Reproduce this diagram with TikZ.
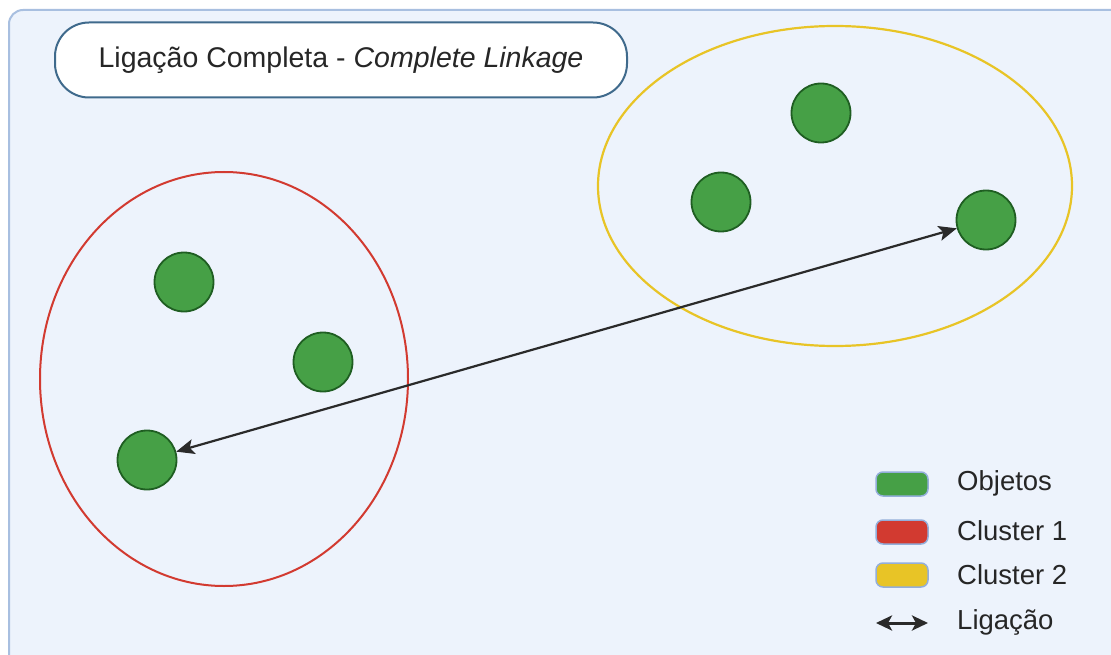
\documentclass[tikz,border=0pt]{standalone}
\usepackage{fontspec}
\setmainfont{Liberation Sans}
\usetikzlibrary{arrows.meta}
\definecolor{panelbg}{HTML}{EDF3FC}
\definecolor{panelline}{HTML}{A8BFE0}
\definecolor{titleline}{HTML}{3F6A8C}
\definecolor{objfill}{HTML}{46A046}
\definecolor{objline}{HTML}{1F5E22}
\definecolor{redc}{HTML}{D23A30}
\definecolor{yellowc}{HTML}{E8C426}
\definecolor{swline}{HTML}{93AEDA}
\definecolor{arrowc}{HTML}{2A2A2A}
\tikzset{
  obj/.style={circle, draw=objline, line width=1.8pt, fill=objfill, minimum size=59pt, inner sep=0pt},
  swatch/.style={rounded corners=7pt, draw=swline, line width=1.5pt, minimum width=52pt, minimum height=24pt, inner sep=0pt},
  legtext/.style={anchor=west, font=\fontsize{27.5}{32}\selectfont, text=black!85, inner sep=0pt},
  link/.style={arrowc, line width=2.2pt, {Stealth[length=18pt,width=15pt,inset=4pt]}-{Stealth[length=18pt,width=15pt,inset=4pt]}},
}
\begin{document}
\begin{tikzpicture}[x=1pt,y=-1pt]
\useasboundingbox (0,0) rectangle (1111,655);
\fill[white] (0,0) rectangle (1111,655);
\draw[panelline, line width=2pt, fill=panelbg, rounded corners=14pt] (9,10) rectangle (1140,690);
% title
\node[draw=titleline, line width=2pt, fill=white, rounded corners=34pt, minimum width=572pt, minimum height=75pt, font=\fontsize{28.5}{32}\selectfont, text=black!85] (title) at (341,60) {Ligação Completa - \textit{Complete Linkage}};
% clusters
\draw[redc, line width=2pt] (224,379) ellipse [x radius=184, y radius=207];
\draw[yellowc, line width=2.2pt] (835,186) ellipse [x radius=237, y radius=160];
% objects
\node[obj] (a1) at (184,282) {};
\node[obj] (a2) at (323,362) {};
\node[obj] (a3) at (147,460) {};
\node[obj] (b1) at (821,113) {};
\node[obj] (b2) at (721,202) {};
\node[obj] (b3) at (986,220) {};
\draw[link] (a3) -- (b3);
% legend
\node[swatch, fill=objfill] (s1) at (902,484) {};
\node[swatch, fill=redc] (s2) at (902,532) {};
\node[swatch, fill=yellowc] (s3) at (902,575) {};
\coordinate (l1) at (876,623);
\coordinate (l2) at (928,623);
\draw[arrowc, line width=3pt, {Stealth[length=16pt,width=15pt,inset=4pt]}-{Stealth[length=16pt,width=15pt,inset=4pt]}] (l1) -- (l2);
\node[legtext] (t1) at (957,483) {Objetos};
\node[legtext] (t2) at (957,531) {Cluster 1};
\node[legtext] (t3) at (957,575) {Cluster 2};
\node[legtext] (t4) at (957,622) {Ligação};
\end{tikzpicture}
\end{document}
